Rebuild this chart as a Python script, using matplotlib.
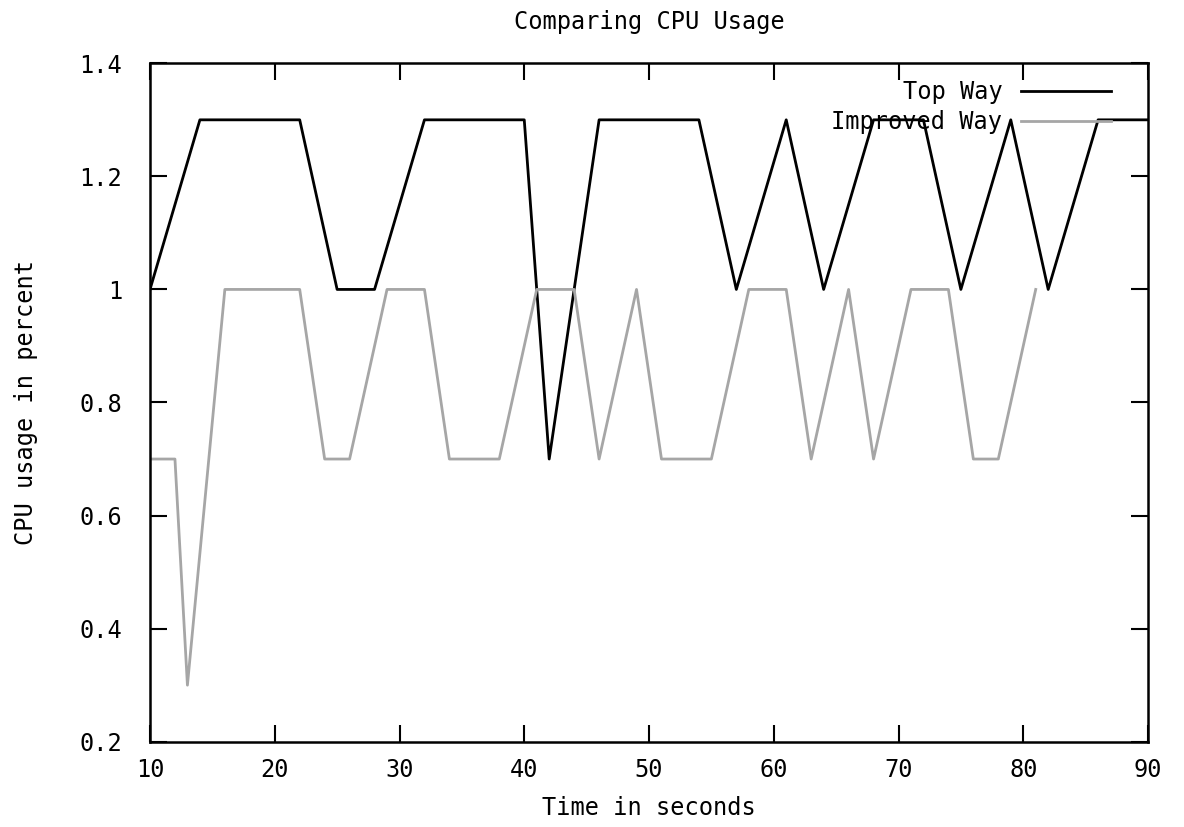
import matplotlib
matplotlib.use("Agg")
import matplotlib.pyplot as plt
from matplotlib.ticker import FixedLocator, FixedFormatter

# data
top_x = [10, 14, 22, 25, 28, 32, 40, 42, 46, 54, 57, 61, 64, 68, 72, 75, 79, 82, 86, 90]
top_y = [1.0, 1.3, 1.3, 1.0, 1.0, 1.3, 1.3, 0.7, 1.3, 1.3, 1.0, 1.3, 1.0, 1.3, 1.3, 1.0, 1.3, 1.0, 1.3, 1.3]

imp_x = [10, 12, 13, 16, 22, 24, 26, 29, 32, 34, 38, 41, 44, 46, 49, 51, 55, 58, 61, 63, 66, 68, 71, 74, 76, 78, 81]
imp_y = [0.7, 0.7, 0.3, 1.0, 1.0, 0.7, 0.7, 1.0, 1.0, 0.7, 0.7, 1.0, 1.0, 0.7, 1.0, 0.7, 0.7, 1.0, 1.0, 0.7, 1.0, 0.7, 1.0, 1.0, 0.7, 0.7, 1.0]

x_ticks = [10, 20, 30, 40, 50, 60, 70, 80, 90]
y_ticks = [0.2, 0.4, 0.6, 0.8, 1.0, 1.2, 1.4]
y_tick_labels = ["0.2", "0.4", "0.6", "0.8", "1", "1.2", "1.4"]

plt.rcParams['font.family'] = ['DejaVu Sans Mono']
fs = 17

fig = plt.figure(figsize=(11.84, 8.27), dpi=100)
ax = fig.add_axes([150 / 1184, 1 - 741.7 / 827, (1148 - 150) / 1184, (741.7 - 63.3) / 827])

ax.plot(top_x, top_y, color='black', linewidth=2, label="Top Way")
ax.plot(imp_x, imp_y, color='#a6a6a6', linewidth=2, label="Improved Way")

ax.set_xlim(10, 90)
ax.set_ylim(0.2, 1.4)
ax.xaxis.set_major_locator(FixedLocator(x_ticks))
ax.yaxis.set_major_locator(FixedLocator(y_ticks))
ax.yaxis.set_major_formatter(FixedFormatter(y_tick_labels))

ax.tick_params(direction='in', length=12, width=1.5, top=True, right=True,
               labelsize=fs, colors='black')
ax.tick_params(axis='x', pad=12)
ax.tick_params(axis='y', pad=20)
for s in ax.spines.values():
    s.set_linewidth(1.8)

ax.set_title("Comparing CPU Usage", fontsize=fs, pad=25)
ax.set_xlabel("Time in seconds", fontsize=fs, labelpad=10)
ax.set_ylabel("CPU usage in percent", fontsize=fs, labelpad=30)

ax.legend(loc='upper right', bbox_to_anchor=(0.963, 0.975), frameon=False,
          markerfirst=False, fontsize=fs, handlelength=3.8, handletextpad=0.8,
          borderpad=0, borderaxespad=0, labelspacing=0.25)

fig.savefig("out.png", dpi=100, facecolor='white')
